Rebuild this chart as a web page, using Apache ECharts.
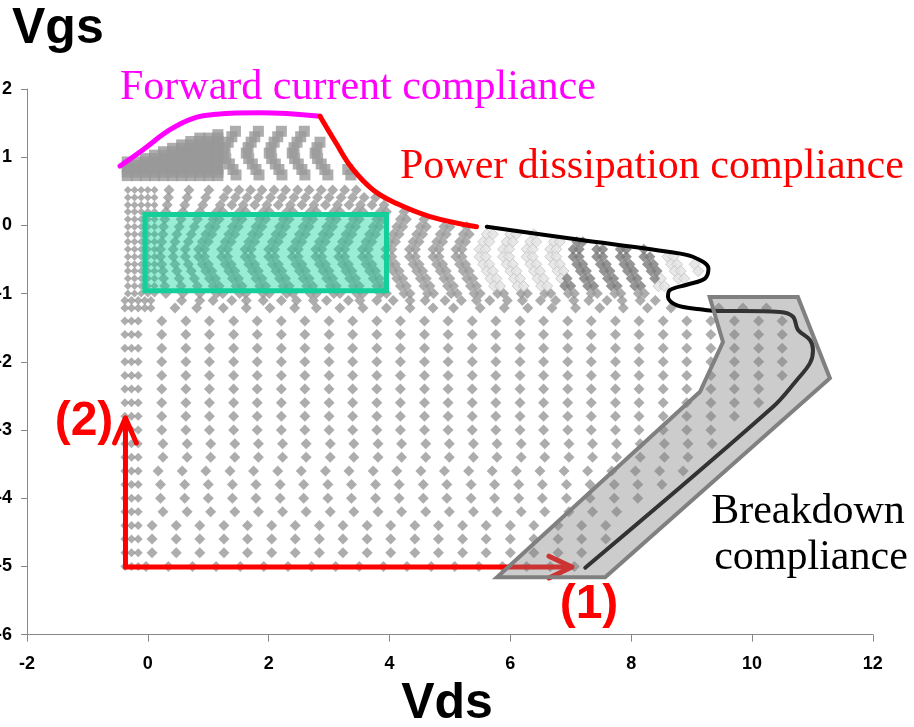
<!DOCTYPE html>
<html>
<head>
<meta charset="utf-8">
<script src="https://cdn.jsdelivr.net/npm/echarts@6/dist/echarts.min.js"></script>
<style>
  html, body { margin: 0; padding: 0; background: #fff; }
  #chart { width: 914px; height: 727px; }
</style>
</head>
<body>
<div id="chart"></div>
<script>
// ---------- measured operating points (Vds, Vgs in volts) ----------

// Axis ticks
const xTicks = [-2, 0, 2, 4, 6, 8, 10, 12];
const yTicks = [-6, -5, -4, -3, -2, -1, 0, 1, 2];

// Lower sweep: Vgs rows every 0.2 V, each row using one of the Vds column sets below
const lowCluster = [-0.38, -0.27, -0.16];
const colsA = [0.23, 0.63, 1.02, 1.42, 1.81, 2.21, 2.6, 3.0, 3.39, 3.79, 4.18, 4.58, 4.97, 5.37, 5.76, 6.16, 6.55, 6.95, 7.34, 7.74, 8.13, 8.53, 8.92, 9.32, 9.71, 10.11, 10.5];
const colsB = [0.25, 0.65, 1.04, 1.44, 1.83, 2.23, 2.62, 3.02, 3.41, 3.81, 4.2, 4.6, 4.99, 5.39, 5.78, 6.18, 6.57, 6.97, 7.36, 7.76, 8.15, 8.55, 8.94, 9.34];
const colsC = [0.21, 0.61, 1.0, 1.4, 1.79, 2.19, 2.58, 2.98, 3.37, 3.77, 4.16, 4.56, 4.95, 5.35, 5.74, 6.14, 6.53, 6.93, 7.32, 7.72, 8.11, 8.51];
const colsD = [0.17, 0.57, 0.96, 1.36, 1.75, 2.15, 2.54, 2.94, 3.33, 3.73, 4.12, 4.52, 4.91, 5.31, 5.7, 6.1, 6.49, 6.89, 7.28, 7.68, 8.07, 8.47, 8.86];
const colsE = [0.07, 0.47, 0.86, 1.26, 1.65, 2.05, 2.44, 2.84, 3.23, 3.63, 4.02, 4.42, 4.81, 5.21, 5.6, 6.0, 6.39, 6.79, 7.18, 7.58];
const colsF = [-0.03, 0.34, 0.74, 1.13, 1.53, 1.92, 2.32, 2.71, 3.11, 3.5, 3.9, 4.29, 4.69, 5.08, 5.48, 5.87, 6.27, 6.66, 7.06];
const lowVgs   = [-5.0, -4.8, -4.6, -4.4, -4.2, -4.0, -3.8, -3.6, -3.4, -3.2, -3.0, -2.8, -2.6, -2.4, -2.2, -2.0, -1.8, -1.6, -1.4];
const lowSet   = ['F', 'E', 'E', 'E', 'B', 'C', 'C', 'D', 'B', 'B', 'A', 'A', 'A', 'A', 'A', 'A', 'A', 'A', 'A'];
const lowCount = [19, 19, 20, 20, 20, 21, 22, 23, 23, 24, 24, 25, 26, 26, 27, 27, 27, 27, 27];

// Transition rows
const midVgs = [-1.10, -1.21];
const midCluster = [-0.38, -0.27, -0.16, -0.05, 0.05];
const midVds = [
  [0.56, 0.86, 1.08, 1.39, 1.63, 1.91, 2.21, 2.46, 2.74, 2.96, 3.32, 3.51, 3.79, 4.06, 4.34, 4.59, 4.92, 5.19, 5.44, 5.66, 5.95, 6.2, 6.5, 6.75, 7.05, 7.3, 7.6, 7.85, 8.15, 8.4],
  [0.45, 0.81, 1.25, 1.63, 2.02, 2.43, 2.79, 3.18, 3.56, 3.95, 4.34, 4.72, 5.06, 5.5, 5.9, 6.29, 6.69, 7.08, 7.48, 7.87, 8.27, 8.66, 9.45, 9.85, 10.24]
];

// Upper sweep: Vgs rows every ~0.11 V with chevron-shaped Vds columns
const chevVgs = [0.52, 0.41, 0.30, 0.20, 0.09, -0.02, -0.13, -0.24, -0.35, -0.46, -0.57, -0.67, -0.78, -0.89, -1.0];
const fineCols = [-0.33, -0.22, -0.11, 0.0, 0.11];
const chevGray = [
  [0.35, 0.68, 1.01, 1.32, 1.51, 1.7, 1.89, 2.09, 2.28, 2.48, 2.67, 2.87, 3.06, 3.26, 3.45],
  [0.34, 0.65, 0.96, 1.26, 1.45, 1.64, 1.83, 2.03, 2.22, 2.42, 2.61, 2.81, 3.0, 3.2, 3.39, 3.58, 3.77],
  [0.32, 0.61, 0.91, 1.2, 1.39, 1.58, 1.77, 1.97, 2.16, 2.36, 2.55, 2.75, 2.94, 3.14, 3.33, 3.52, 3.71, 3.91],
  [0.3, 0.58, 0.86, 1.14, 1.24, 1.52, 1.62, 1.91, 2.01, 2.3, 2.4, 2.69, 2.79, 3.08, 3.18, 3.46, 3.56, 3.85, 3.95, 4.24],
  [0.28, 0.55, 0.82, 1.08, 1.18, 1.46, 1.56, 1.85, 1.95, 2.24, 2.34, 2.63, 2.73, 3.02, 3.12, 3.4, 3.5, 3.79, 3.89, 4.18, 4.28, 4.57],
  [0.26, 0.52, 0.77, 1.02, 1.12, 1.4, 1.5, 1.79, 1.89, 2.18, 2.28, 2.57, 2.67, 2.96, 3.06, 3.34, 3.44, 3.73, 3.83, 4.12, 4.22, 4.51, 4.61, 4.9, 5.0, 5.28],
  [0.25, 0.48, 0.72, 0.96, 1.06, 1.34, 1.44, 1.73, 1.83, 2.12, 2.22, 2.51, 2.61, 2.9, 3.0, 3.28, 3.38, 3.67, 3.77, 4.06, 4.16, 4.45, 4.55, 4.84, 4.94, 5.22, 5.32],
  [0.23, 0.45, 0.67, 0.9, 1.0, 1.28, 1.38, 1.67, 1.77, 2.06, 2.16, 2.45, 2.55, 2.84, 2.94, 3.22, 3.32, 3.61, 3.71, 4.0, 4.1, 4.39, 4.49, 4.78, 4.88, 5.16, 5.26],
  [0.21, 0.42, 0.62, 0.84, 0.94, 1.22, 1.32, 1.61, 1.71, 2.0, 2.1, 2.39, 2.49, 2.78, 2.88, 3.16, 3.26, 3.55, 3.65, 3.94, 4.04, 4.33, 4.43, 4.72, 4.82, 5.1, 5.2],
  [0.21, 0.42, 0.62, 0.84, 0.94, 1.22, 1.32, 1.61, 1.71, 2.0, 2.1, 2.39, 2.49, 2.78, 2.88, 3.16, 3.26, 3.55, 3.65, 3.94, 4.04, 4.33, 4.43, 4.72, 4.82, 5.1, 5.2],
  [0.23, 0.45, 0.67, 0.9, 1.0, 1.28, 1.38, 1.67, 1.77, 2.06, 2.16, 2.45, 2.55, 2.84, 2.94, 3.22, 3.32, 3.61, 3.71, 4.0, 4.1, 4.39, 4.49, 4.78, 4.88, 5.16, 5.26],
  [0.25, 0.48, 0.72, 0.96, 1.06, 1.34, 1.44, 1.73, 1.83, 2.12, 2.22, 2.51, 2.61, 2.9, 3.0, 3.28, 3.38, 3.67, 3.77, 4.06, 4.16, 4.45, 4.55, 4.84, 4.94, 5.22, 5.32],
  [0.26, 0.52, 0.77, 1.02, 1.12, 1.4, 1.5, 1.79, 1.89, 2.18, 2.28, 2.57, 2.67, 2.96, 3.06, 3.34, 3.44, 3.73, 3.83, 4.12, 4.22, 4.51, 4.61, 4.9, 5.0, 5.28, 5.38],
  [0.28, 0.55, 0.82, 1.08, 1.18, 1.46, 1.56, 1.85, 1.95, 2.24, 2.34, 2.63, 2.73, 3.02, 3.12, 3.4, 3.5, 3.79, 3.89, 4.18, 4.28, 4.57, 4.67, 4.96, 5.06, 5.34, 5.44],
  [0.3, 0.58, 0.86, 1.14, 1.24, 1.52, 1.62, 1.91, 2.01, 2.3, 2.4, 2.69, 2.79, 3.08, 3.18, 3.46, 3.56, 3.85, 3.95, 4.24, 4.34, 4.63, 4.73, 5.02, 5.12, 5.4, 5.5, 5.79, 5.89, 6.18, 6.28, 6.57, 6.67, 6.96, 7.06, 7.34, 7.44, 7.73, 7.83, 8.12, 8.22]
];
// Second measurement run, drawn pale and dark
const chevLight = [
  [], [], [], [], [], [],
  [5.61, 5.71, 6.0, 6.1, 6.39],
  [5.55, 5.65, 5.94, 6.04, 6.33, 6.43, 6.72, 6.82],
  [5.49, 5.59, 5.88, 5.98, 6.27, 6.37, 6.66, 6.76],
  [5.49, 5.59, 5.88, 5.98, 6.27, 6.37, 6.66, 6.76, 8.6, 8.7],
  [5.55, 5.65, 5.94, 6.04, 6.33, 6.43, 6.72, 6.82, 8.66, 8.76, 9.05],
  [5.61, 5.71, 6.0, 6.1, 6.39, 6.49, 6.78, 6.88, 8.72, 8.82, 9.11],
  [5.67, 5.77, 6.06, 6.16, 6.45, 6.55, 6.84, 8.49, 8.78, 8.88],
  [5.73, 5.83, 6.12, 6.22, 6.51, 6.61, 8.45, 8.55],
  []
];
const chevDark = [
  [], [], [], [], [], [], [],
  [7.1, 7.2],
  [7.04, 7.14, 7.43, 7.53, 7.82, 7.92, 8.21],
  [7.04, 7.14, 7.43, 7.53, 7.82, 7.92, 8.21, 8.31],
  [7.1, 7.2, 7.49, 7.59, 7.88, 7.98, 8.27, 8.37],
  [7.16, 7.26, 7.55, 7.65, 7.94, 8.04, 8.33, 8.43],
  [6.94, 7.22, 7.32, 7.61, 7.71, 8.0, 8.1, 8.39],
  [6.9, 7.0, 7.28, 7.38, 7.67, 7.77, 8.06, 8.16],
  []
];

// Forward-bias block: dense rows, each starting at blockCols[blockFirst[i]]
const blockCols  = [-0.34, -0.19, -0.04, 0.11, 0.26, 0.41, 0.56, 0.71, 0.86, 1.01, 1.16];
const blockVgs   = [0.73, 0.78, 0.83, 0.88, 0.93, 0.98, 1.03, 1.08, 1.13, 1.18, 1.23, 1.28, 1.33];
const blockFirst = [0, 0, 0, 0, 0, 2, 3, 4, 5, 6, 7, 8, 10];
const stepVgs = [1.38, 1.30, 1.22, 1.14, 1.06, 0.98, 0.90, 0.82, 0.74];
const stepVds = [
  [1.45, 1.83, 2.21, 2.59],
  [1.39, 1.77, 2.15, 2.53],
  [1.33, 1.71, 2.09, 2.47, 2.85],
  [1.28, 1.66, 2.04, 2.42, 2.8],
  [1.25, 1.63, 2.01, 2.39, 2.77],
  [1.29, 1.67, 2.05, 2.43, 2.81],
  [1.35, 1.73, 2.11, 2.49, 2.87],
  [1.41, 1.79, 2.17, 2.55, 2.93, 3.31],
  [1.46, 1.84, 2.22, 2.6, 2.98, 3.36]
];

// Compliance boundaries
const fwdLimit   = [[-0.46, 0.87], [-0.08, 1.11], [0.36, 1.40], [0.75, 1.57], [1.14, 1.63], [1.85, 1.65], [2.85, 1.60]];
const powerLimit = [[2.85, 1.60], [3.12, 1.20], [3.38, 0.84], [3.73, 0.52], [4.12, 0.32], [4.67, 0.13], [5.44, -0.02]];
const bdLimit    = [[5.61, -0.02], [7.15, -0.21], [8.64, -0.39], [9.02, -0.46], [9.28, -0.63], [9.22, -0.78], [8.92, -0.87],
                    [8.64, -0.95], [8.61, -1.05], [8.75, -1.17], [9.14, -1.23], [9.35, -1.25], [10.46, -1.27], [10.68, -1.34],
                    [10.76, -1.53], [10.96, -1.68], [11.01, -1.83], [10.96, -2.02], [10.74, -2.27], [10.35, -2.66], [7.24, -5.02]];

// Highlighted regions
const boxVds  = [-0.05, 3.95, 3.95, -0.05];
const boxVgs  = [0.16, 0.16, -0.96, -0.96];
const bandVds = [5.78, 7.57, 11.29, 10.76, 9.30, 9.52, 9.14];
const bandVgs = [-5.16, -5.16, -2.24, -1.05, -1.05, -1.71, -2.44];

// Sweep direction arrows
const arrow1Shaft = [[-0.37, -5.01], [7.0, -5.01]];
const arrow1Head  = [[6.64, -4.85], [7.02, -5.01], [6.64, -5.17]];
const arrow2Shaft = [[-0.37, -5.01], [-0.37, -2.84]];
const arrow2Head  = [[-0.55, -3.19], [-0.37, -2.82], [-0.19, -3.19]];

// ---------- assemble point lists ----------
const colSets = { A: colsA, B: colsB, C: colsC, D: colsD, E: colsE, F: colsF };
const grayPts = [], clusterPts = [], finePts = [], lightPts = [], darkPts = [], blockPts = [];

lowVgs.forEach((v, r) => {
  lowCluster.forEach(x => clusterPts.push([x, v]));
  colSets[lowSet[r]].slice(0, lowCount[r]).forEach(x => grayPts.push([x, v]));
});
midVgs.forEach((v, r) => {
  midCluster.forEach(x => clusterPts.push([x, v]));
  midVds[r].forEach(x => grayPts.push([x, v]));
});
chevVgs.forEach((v, r) => {
  fineCols.forEach(x => finePts.push([x, v]));
  chevGray[r].forEach(x => grayPts.push([x, v]));
  chevLight[r].forEach(x => lightPts.push([x, v]));
  chevDark[r].forEach(x => darkPts.push([x, v]));
});
blockVgs.forEach((v, r) => {
  blockCols.slice(blockFirst[r]).forEach(x => blockPts.push([x, v]));
});
stepVgs.forEach((v, r) => {
  stepVds[r].forEach(x => blockPts.push([x, v]));
});

// ---------- chart ----------
const GRAY = '#989898';
const labelFont = { fontFamily: '"Liberation Sans", Arial, sans-serif', fontWeight: 'bold', fontSize: 18, color: '#000' };
const axisColor = '#888888';

function polygonSeries(xs, ys, style, z) {
  return {
    type: 'custom', z: z, silent: true, clip: false,
    data: [[xs[0], ys[0]]],
    renderItem: (params, api) => ({
      type: 'polygon',
      shape: { points: xs.map((x, i) => api.coord([x, ys[i]])) },
      style: style
    })
  };
}
function lineSeries(data, color, width, z, smooth) {
  return {
    type: 'line', data: data, z: z, silent: true,
    symbol: 'none', showSymbol: false, smooth: smooth || false,
    lineStyle: { color: color, width: width, cap: 'round', join: 'round' }
  };
}
function dotSeries(data, symbol, size, itemStyle, z) {
  return { type: 'scatter', data: data, symbol: symbol, symbolSize: size, itemStyle: itemStyle, z: z || 2, silent: true };
}

const serif = '42px "Liberation Serif", "Times New Roman", serif';
const boldSans = '"Liberation Sans", Arial, sans-serif';

const chart = echarts.init(document.getElementById('chart'), null, { renderer: 'canvas' });
chart.setOption({
  animation: false,
  backgroundColor: '#ffffff',
  grid: { left: 27, right: 41.2, top: 89, bottom: 92.4, containLabel: false, outerBoundsMode: 'none' },
  xAxis: {
    type: 'value', min: xTicks[0], max: xTicks[xTicks.length - 1], interval: 2,
    axisLine: { onZero: false, lineStyle: { color: axisColor, width: 1 } },
    axisTick: { show: true, length: 7, lineStyle: { color: axisColor } },
    axisLabel: Object.assign({ margin: 20 }, labelFont),
    splitLine: { show: false }
  },
  yAxis: {
    type: 'value', min: yTicks[0], max: yTicks[yTicks.length - 1], interval: 1,
    axisLine: { show: true, onZero: false, lineStyle: { color: axisColor, width: 1 } },
    axisTick: { show: true, length: 6, lineStyle: { color: axisColor } },
    axisLabel: Object.assign({ margin: 15 }, labelFont),
    splitLine: { show: false }
  },
  series: [
    dotSeries(grayPts, 'diamond', 11, { color: GRAY }),
    dotSeries(clusterPts, 'diamond', 9, { color: GRAY }),
    dotSeries(finePts, 'diamond', 8, { color: GRAY }),
    dotSeries(lightPts, 'diamond', 11, { color: '#e2e2e2', borderColor: '#c4c4c4', borderWidth: 1 }),
    dotSeries(darkPts, 'diamond', 11, { color: '#7a7a7a' }),
    dotSeries(blockPts, 'rect', 11, { color: GRAY }),
    polygonSeries(boxVds, boxVgs, { fill: 'rgba(0,210,150,0.4)', stroke: '#14cf9a', lineWidth: 5 }, 3),
    lineSeries(fwdLimit, '#ff00ff', 5, 4, 0.4),
    lineSeries(powerLimit, '#ff0000', 5, 4, 0.4),
    lineSeries(bdLimit, '#000000', 4, 4, 0.35),
    lineSeries(arrow1Shaft, '#ff0000', 5, 4),
    lineSeries(arrow1Head, '#ff0000', 5, 4),
    lineSeries(arrow2Shaft, '#ff0000', 5, 4),
    lineSeries(arrow2Head, '#ff0000', 5, 4),
    polygonSeries(bandVds, bandVgs, { fill: 'rgba(128,128,128,0.4)', stroke: '#808080', lineWidth: 4 }, 6)
  ],
  graphic: [
    { type: 'text', x: 12, y: 29, z: 100, style: { text: 'Vgs', font: 'bold 50px ' + boldSans, fill: '#000', verticalAlign: 'middle' } },
    { type: 'text', x: 447, y: 704, z: 100, style: { text: 'Vds', font: 'bold 50px ' + boldSans, fill: '#000', align: 'center', verticalAlign: 'middle' } },
    { type: 'text', x: 120, y: 88, z: 100, style: { text: 'Forward current compliance', font: serif, fill: '#ff00ff', verticalAlign: 'middle' } },
    { type: 'text', x: 400, y: 167, z: 100, style: { text: 'Power dissipation compliance', font: serif, fill: '#ff0000', verticalAlign: 'middle' } },
    { type: 'text', x: 808, y: 512, z: 100, style: { text: 'Breakdown', font: serif, fill: '#000', align: 'center', verticalAlign: 'middle' } },
    { type: 'text', x: 811, y: 558, z: 100, style: { text: 'compliance', font: serif, fill: '#000', align: 'center', verticalAlign: 'middle' } },
    { type: 'text', x: 589, y: 605, z: 100, style: { text: '(1)', font: 'bold 48px ' + boldSans, fill: '#ff0000', align: 'center', verticalAlign: 'middle' } },
    { type: 'text', x: 84, y: 422, z: 100, style: { text: '(2)', font: 'bold 48px ' + boldSans, fill: '#ff0000', align: 'center', verticalAlign: 'middle' } }
  ]
});
</script>
</body>
</html>
